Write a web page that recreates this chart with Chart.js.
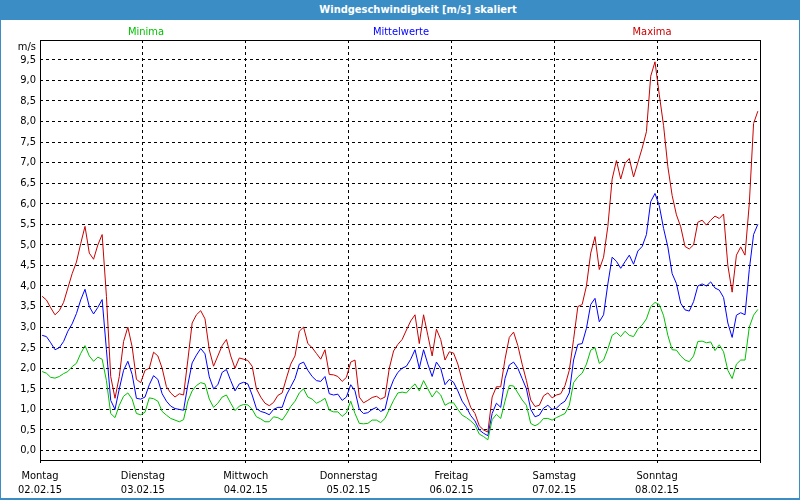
<!DOCTYPE html>
<html>
<head>
<meta charset="utf-8">
<script src="https://cdn.jsdelivr.net/npm/chart.js@4/dist/chart.umd.min.js"></script>
<style>
  html, body { margin: 0; padding: 0; background: #fff; }
  #wrap { position: relative; width: 800px; height: 500px; overflow: hidden; }
  #chart { position: absolute; left: 0; top: 0; }
  .txt { position: absolute; font: 11px "DejaVu Sans Condensed", "Liberation Sans", Arial, sans-serif; line-height: 14px; white-space: nowrap; }
  #title { left: 0; top: 0; width: 800px; height: 20px; box-sizing: border-box; padding-left: 36px;
           background: #3b8dc5; color: #fff; font-weight: bold; line-height: 20px; text-align: center; }
  .lg { top: 25px; width: 120px; text-align: center; }
  #unit { left: 0; top: 40px; width: 36px; text-align: right; color: #000; }
  #frame { position: absolute; left: 0; top: 0; width: 800px; height: 500px; box-sizing: border-box;
           border: 1px solid #3b8dc5; border-top: none; border-bottom-width: 2px; pointer-events: none; }
</style>
</head>
<body>
<div id="wrap">
  <canvas id="chart" width="800" height="500"></canvas>
  <div id="title" class="txt">Windgeschwindigkeit [m/s] skaliert</div>
  <div class="txt lg" style="left:86px;color:#00c000">Minima</div>
  <div class="txt lg" style="left:341px;color:#0000ff">Mittelwerte</div>
  <div class="txt lg" style="left:592px;color:#c80000">Maxima</div>
  <div id="unit" class="txt">m/s</div>
  <div id="frame"></div>
</div>
<script>
'use strict';

// ── Data (hourly values, 02.02.15 00h – 08.02.15 23h) ────────────────────────

const dayNames = ['Montag', 'Dienstag', 'Mittwoch', 'Donnerstag', 'Freitag', 'Samstag', 'Sonntag'];
const dayDates = ['02.02.15', '03.02.15', '04.02.15', '05.02.15', '06.02.15', '07.02.15', '08.02.15'];
const dayTicks = [0, 24, 48, 72, 96, 120, 144, 168];
const yTicks   = [0, 0.5, 1, 1.5, 2, 2.5, 3, 3.5, 4, 4.5, 5, 5.5, 6, 6.5, 7, 7.5, 8, 8.5, 9, 9.5];

const maxima = [
  3.75, 3.66, 3.47, 3.3, 3.4, 3.6, 3.95, 4.3, 4.58, 5.03, 5.45, 4.8, 4.65, 5.0, 5.25, 3.75, 1.8, 1.27, 1.8, 2.65, 3.0, 2.52, 1.73, 1.65,
  1.95, 2.0, 2.39, 2.3, 2.0, 1.55, 1.4, 1.3, 1.38, 1.35, 2.2, 3.1, 3.3, 3.4, 3.2, 2.45, 2.05, 2.3, 2.55, 2.7, 2.3, 2.0, 2.25, 2.22,
  2.19, 2.05, 1.5, 1.3, 1.15, 1.09, 1.17, 1.34, 1.4, 1.76, 2.1, 2.3, 2.9, 3.0, 2.6, 2.5, 2.36, 2.22, 2.45, 1.85, 1.84, 1.8, 1.68, 1.78,
  2.15, 2.2, 1.3, 1.16, 1.22, 1.29, 1.32, 1.25, 1.3, 2.0, 2.42, 2.58, 2.7, 2.93, 3.15, 3.3, 2.6, 3.3, 2.8, 2.3, 2.95, 2.7, 2.2, 2.4,
  2.37, 2.1, 1.7, 1.35, 1.05, 0.9, 0.6, 0.5, 0.45, 1.3, 1.55, 1.55, 2.22, 2.75, 2.88, 2.55, 2.1, 1.7, 1.23, 1.07, 1.1, 1.33, 1.4, 1.28,
  1.35, 1.38, 1.58, 1.95, 2.7, 3.5, 3.55, 4.0, 4.8, 5.2, 4.4, 4.7, 5.45, 6.6, 7.05, 6.6, 6.98, 7.1, 6.65, 7.0, 7.35, 7.75, 9.1, 9.45,
  8.65, 7.9, 6.9, 6.2, 5.73, 5.44, 4.96, 4.9, 5.0, 5.55, 5.6, 5.48, 5.6, 5.7, 5.64, 5.75, 4.5, 3.85, 4.75, 4.95, 4.75, 6.0, 7.95, 8.25
];

const mittel = [
  2.8, 2.77, 2.62, 2.45, 2.5, 2.65, 2.9, 3.08, 3.33, 3.66, 3.92, 3.5, 3.32, 3.48, 3.67, 2.45, 1.22, 1.0, 1.5, 1.95, 2.17, 1.85, 1.27, 1.25,
  1.3, 1.6, 1.82, 1.73, 1.38, 1.2, 1.08, 1.02, 1.0, 0.98, 1.6, 2.13, 2.32, 2.48, 2.35, 1.79, 1.5, 1.6, 1.9, 1.97, 1.7, 1.45, 1.62, 1.66,
  1.62, 1.35, 1.02, 0.95, 0.92, 0.87, 1.0, 1.05, 1.05, 1.35, 1.55, 1.75, 2.1, 2.15, 1.95, 1.8, 1.7, 1.68, 1.8, 1.38, 1.35, 1.37, 1.22, 1.3,
  1.6, 1.45, 1.0, 0.9, 0.92, 1.0, 1.05, 0.95, 1.0, 1.45, 1.72, 1.9, 2.0, 2.05, 2.22, 2.45, 2.0, 2.45, 2.1, 1.8, 2.15, 2.0, 1.6, 1.73,
  1.66, 1.45, 1.2, 1.05, 0.85, 0.72, 0.5, 0.42, 0.36, 0.9, 1.15, 1.05, 1.75, 2.08, 2.15, 2.0, 1.75, 1.5, 1.0, 0.82, 0.86, 1.03, 1.1, 1.0,
  1.03, 1.13, 1.2, 1.4, 2.2, 2.58, 2.6, 2.97, 3.55, 3.7, 3.13, 3.3, 4.05, 4.7, 4.6, 4.43, 4.59, 4.75, 4.53, 4.85, 4.96, 5.25, 6.05, 6.25,
  5.95, 5.4, 4.95, 4.3, 4.06, 3.58, 3.42, 3.39, 3.62, 4.0, 4.05, 4.0, 4.1, 3.95, 3.9, 3.72, 3.1, 2.75, 3.29, 3.35, 3.3, 4.4, 5.25, 5.5
];

const minima = [
  1.92, 1.88, 1.78, 1.76, 1.8, 1.87, 1.92, 2.04, 2.12, 2.36, 2.55, 2.3, 2.17, 2.27, 2.22, 1.7, 0.9, 0.8, 1.1, 1.32, 1.4, 1.25, 0.9, 0.87,
  0.93, 1.28, 1.26, 1.2, 0.95, 0.86, 0.78, 0.74, 0.7, 0.75, 1.2, 1.45, 1.58, 1.65, 1.62, 1.25, 1.05, 1.15, 1.3, 1.35, 1.15, 0.97, 1.08, 1.12,
  1.11, 1.0, 0.82, 0.77, 0.7, 0.7, 0.82, 0.8, 0.74, 0.89, 1.07, 1.2, 1.4, 1.5, 1.3, 1.25, 1.15, 1.2, 1.27, 0.98, 0.94, 0.94, 0.83, 0.92,
  1.2, 0.9, 0.66, 0.65, 0.66, 0.74, 0.74, 0.68, 0.78, 1.0, 1.22, 1.4, 1.42, 1.4, 1.52, 1.62, 1.45, 1.7, 1.5, 1.3, 1.45, 1.35, 1.1, 1.16,
  1.16, 1.0, 0.86, 0.8, 0.72, 0.62, 0.4, 0.34, 0.26, 0.75, 0.88, 0.78, 1.2, 1.58, 1.57, 1.4, 1.23, 1.1, 0.66, 0.6, 0.66, 0.78, 0.78, 0.74,
  0.8, 0.85, 0.9, 1.1, 1.65, 1.79, 1.88, 2.1, 2.44, 2.5, 2.12, 2.2, 2.47, 2.8, 2.87, 2.77, 2.9, 2.8, 2.77, 2.95, 3.05, 3.2, 3.5, 3.6,
  3.55, 3.28, 2.8, 2.45, 2.44, 2.3, 2.2, 2.16, 2.3, 2.65, 2.66, 2.62, 2.64, 2.43, 2.57, 2.4, 1.95, 1.75, 2.1, 2.2, 2.2, 3.0, 3.29, 3.43
];

// ── Chart ─────────────────────────────────────────────────────────────────────

const FONT = '"DejaVu Sans Condensed", "Liberation Sans", Arial, sans-serif';

// each value is the mean of one hour, so it sits in the middle of that hour
const toPoints = arr => arr.map((v, i) => ({ x: i + 0.5, y: v }));

const line = (data, color) => ({
  data: toPoints(data),
  borderColor: color,
  borderWidth: 1,
  pointRadius: 0,
  tension: 0,
  fill: false
});

// solid black frame round the plot area
const framePlugin = {
  id: 'frame',
  afterDraw(chart) {
    const { ctx, chartArea: a } = chart;
    ctx.save();
    ctx.strokeStyle = '#000';
    ctx.lineWidth = 1;
    ctx.strokeRect(a.left + 0.5, a.top + 0.5, a.right - a.left, a.bottom - a.top);
    ctx.restore();
  }
};

new Chart(document.getElementById('chart'), {
  type: 'line',
  data: {
    datasets: [
      line(minima, '#00c000'),
      line(mittel, '#0000ff'),
      line(maxima, '#c80000')
    ]
  },
  plugins: [framePlugin],
  options: {
    responsive: false,
    animation: false,
    layout: { padding: { left: 0, right: 40, top: 40, bottom: 0 } },
    plugins: { legend: { display: false }, tooltip: { enabled: false } },
    scales: {
      x: {
        type: 'linear',
        min: 0,
        max: 168,
        afterBuildTicks: s => { s.ticks = dayTicks.map(v => ({ value: v })); },
        afterFit: s => { s.height = 40; },
        grid: { color: '#000', lineWidth: 1, tickLength: 3, tickColor: '#000' },
        border: { display: false, dash: [3, 3] },
        ticks: {
          autoSkip: false,
          maxRotation: 0,
          color: '#000',
          padding: 6,
          font: { family: FONT, size: 11, lineHeight: 1.27 },
          callback: (v, i) => i < dayNames.length ? [dayNames[i], dayDates[i]] : ''
        }
      },
      y: {
        min: -0.23,
        max: 9.98,
        afterBuildTicks: s => { s.ticks = yTicks.map(v => ({ value: v })); },
        afterFit: s => { s.width = 40; },
        grid: { color: '#000', lineWidth: 1, drawTicks: false },
        border: { display: false, dash: [3, 3] },
        ticks: {
          color: '#000',
          padding: 4,
          font: { family: FONT, size: 11 },
          callback: v => v.toFixed(1).replace('.', ',')
        }
      }
    }
  }
});
</script>
</body>
</html>
